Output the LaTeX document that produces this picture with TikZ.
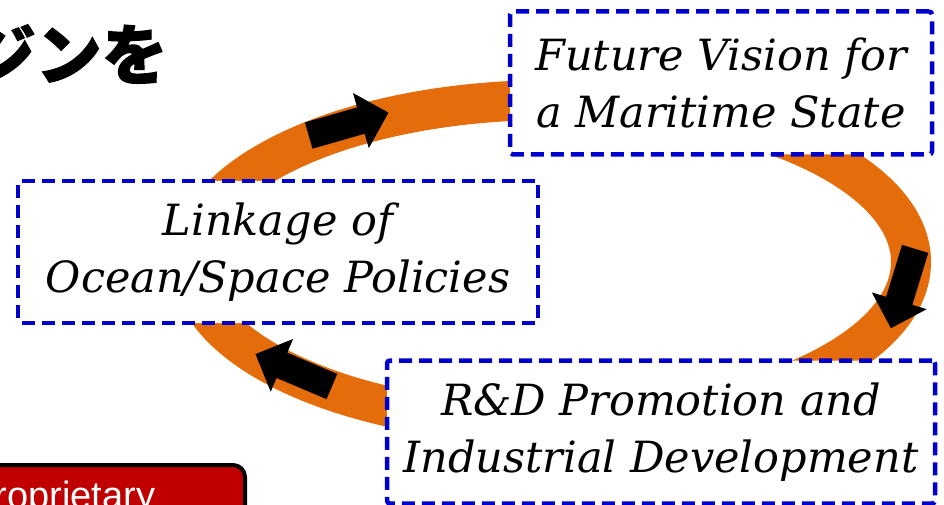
\documentclass[tikz,border=0pt]{standalone}
\usepackage{fontspec}
\newfontfamily\sans{Liberation Sans}
\newfontfamily\serif{DejaVu Serif}
\newfontfamily\cjk{Noto Sans CJK JP}[FakeBold=1.5]
\usetikzlibrary{shapes.arrows}
\definecolor{ringorange}{HTML}{E46C0A}
\definecolor{boxblue}{HTML}{0000CC}
\definecolor{notered}{HTML}{C00000}
\tikzstyle{block} = [rectangle, draw=boxblue, line width=4.5pt, dash pattern=on 13pt off 7pt, fill=white, rounded corners=3pt, inner sep=0pt, align=center, font=\serif\itshape\fontsize{43}{57}\selectfont]
\tikzstyle{turn} = [single arrow, fill=black, minimum height=83pt, inner xsep=0pt, inner ysep=13.5pt, single arrow head extend=15pt]

\begin{document}
\begin{tikzpicture}[x=1pt, y=-1pt]
\useasboundingbox (0,0) rectangle (944,505);
\clip (0,0) rectangle (944,505);

% cycle ring
\draw[ringorange, line width=40pt] (551,262) ellipse [x radius=360, y radius=162];

\node[turn, rotate=16] (up) at (342,126) {};
\node[turn, rotate=-107] (down) at (905,282) {};
\node[turn, rotate=157] (back) at (300,373) {};

\node[block, minimum width=422pt, minimum height=143pt] (vision) at (721,83) {Future Vision for\\a Maritime State};
\node[block, minimum width=520pt, minimum height=142pt] (link) at (278,252) {Linkage of\\Ocean/Space Policies};
\node[block, minimum width=548pt, minimum height=143pt] (rnd) at (661,432) {R\&D Promotion and\\Industrial Development};

% cut-off title and note
\node[anchor=east, inner sep=0pt, font=\cjk\bfseries\fontsize{66}{66}\selectfont] (title) at (168,54) {ジンを};
\draw[fill=notered, line width=4pt, rounded corners=12pt] (-30,465) rectangle (245,560);
\node[anchor=base west, inner sep=0pt, text=white, font=\sans\fontsize{38}{40}\selectfont] (note) at (-31,508) {Proprietary};

\end{tikzpicture}
\end{document}
